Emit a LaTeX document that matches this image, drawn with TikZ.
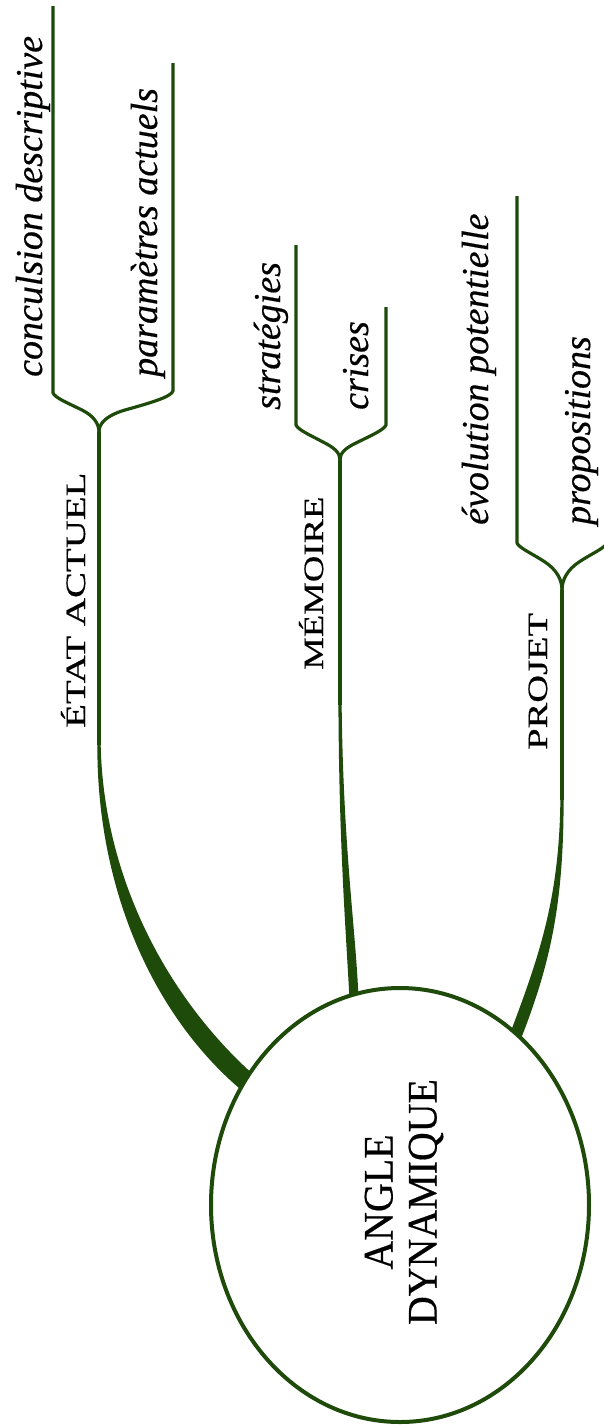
\documentclass[tikz,border=0pt]{standalone}
\usepackage{fontspec}
\setmainfont{Liberation Serif}[FakeBold=0.4]
\usetikzlibrary{shapes.geometric}
\definecolor{branch}{RGB}{30,74,10}
\begin{document}
\begin{tikzpicture}[x=1pt,y=-1pt,
  twig/.style={draw=branch, line width=3.2pt, line join=round, line cap=butt},
  taper/.style={fill=branch, draw=none},
  caplabel/.style={rotate=90, anchor=base west, inner sep=0pt, font=\fontsize{28}{30}\selectfont},
  leaflabel/.style={rotate=90, anchor=base west, inner sep=0pt, font=\fontsize{38}{40}\selectfont\itshape},
  rootnode/.style={ellipse, draw=branch, line width=4pt, fill=white,
    minimum width=378pt, minimum height=434pt, inner sep=0pt},
  roottext/.style={rotate=90, anchor=center, inner sep=0pt, align=center,
    font=\fontsize{42}{44}\selectfont}]
\useasboundingbox (0,0) rectangle (604,1425);
\clip (0,0) rectangle (604,1425);

% ---------- named points ----------
\coordinate (etatC) at (99,432);
\coordinate (etatK) at (99,745);
\coordinate (memC) at (340,460);
\coordinate (memK) at (340,705);
\coordinate (projC) at (562,590);
\coordinate (projK) at (562,800);

% ---------- ETAT ACTUEL branch ----------
\draw[twig] (53,6) -- (53,393) .. controls (55,398) and (70,404) .. (82,410) .. controls (94,416) and (99,424) .. (etatC);
\draw[twig] (173,63) -- (173,391) .. controls (171,397) and (150,403) .. (125,410) .. controls (105,416) and (99,424) .. (etatC);
\draw[twig] (etatC) -- (etatK);
\fill[taper] (97.4,740) .. controls (95.5,886) and (152,1015) .. (242.5,1091)
  -- (255.5,1076.5) .. controls (168,999) and (102,877) .. (100.6,740) -- cycle;

% ---------- MEMOIRE branch ----------
\draw[twig] (296,245) -- (296,425) .. controls (298,430) and (312,436) .. (323,442) .. controls (335,448) and (340,453) .. (memC);
\draw[twig] (386,307) -- (386,425) .. controls (384,430) and (370,436) .. (358,442) .. controls (345,448) and (340,453) .. (memC);
\draw[twig] (memC) -- (memK);
\fill[taper] (338.4,700) .. controls (339,850) and (346,930) .. (349.5,1000)
  -- (358.5,999) .. controls (356,930) and (343,850) .. (341.6,700) -- cycle;

% ---------- PROJET branch ----------
\draw[twig] (517,196) -- (517,543) .. controls (519,548) and (533,554) .. (545,562) .. controls (557,570) and (562,580) .. (projC);
\draw[twig] (607,330) -- (607,543) .. controls (605,548) and (591,554) .. (579,562) .. controls (567,570) and (562,580) .. (projC);
\draw[twig] (projC) -- (projK);
\fill[taper] (563.6,795) .. controls (564,902) and (551,963) .. (519.6,1042.2)
  -- (508.4,1037.8) .. controls (539,957) and (560,898) .. (560.4,795) -- cycle;

% ---------- root ----------
\node[rootnode] (root) at (400,1205) {};
\node[roottext] (roottxt) at (404,1202) {\scalebox{0.95}[1]{ANGLE}\\\scalebox{0.95}[1]{DYNAMIQUE}};

% ---------- branch labels ----------
\node[caplabel] (etat) at (85,728) {\scalebox{1.39}[1]{ÉTAT ACTUEL}};
\node[caplabel] (mem) at (323,670) {\scalebox{1.31}[1]{MÉMOIRE}};
\node[caplabel] (proj) at (547,750) {\scalebox{1.375}[1]{PROJET}};

% ---------- leaf labels ----------
\node[leaflabel] (l1) at (42,377) {conculsion descriptive};
\node[leaflabel] (l2) at (157,377) {paramètres actuels};
\node[leaflabel] (l3) at (280,410) {stratégies};
\node[leaflabel] (l4) at (368,410) {crises};
\node[leaflabel] (l5) at (488,525) {évolution potentielle};
\node[leaflabel] (l6) at (590,525) {propositions};
\end{tikzpicture}
\end{document}
